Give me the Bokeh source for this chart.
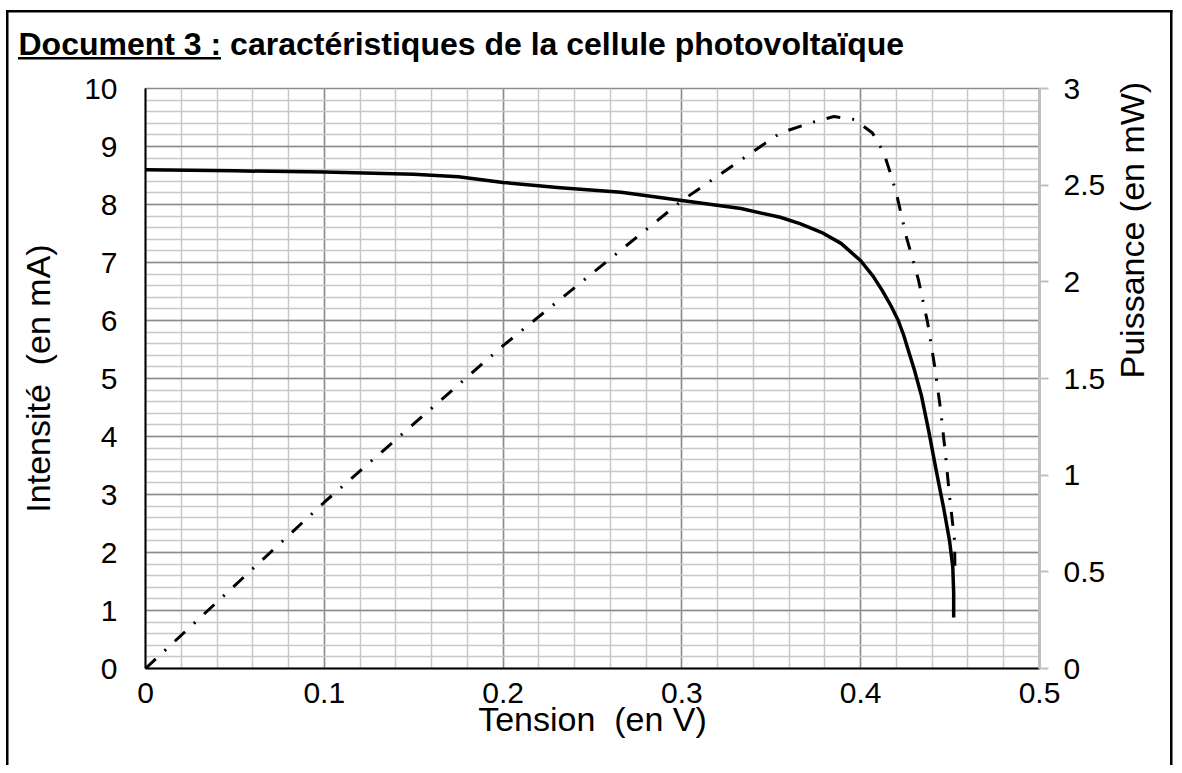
import math
import numpy as np
from bokeh.plotting import figure
from bokeh.models import Range1d, LinearAxis, FixedTicker
from bokeh.embed import file_html
from bokeh.resources import INLINE

# ---------------- data ----------------
tension_i = [0.0, 0.05, 0.10, 0.15, 0.175, 0.20, 0.232, 0.266, 0.30, 0.333, 0.355,
             0.366, 0.378, 0.389, 0.400, 0.407, 0.412, 0.417, 0.421, 0.424, 0.427,
             0.430, 0.434, 0.438, 0.442, 0.4465, 0.4497, 0.4515, 0.452, 0.452]
intensite = [8.60, 8.58, 8.56, 8.52, 8.48, 8.38, 8.29, 8.21, 8.07, 7.93, 7.78,
             7.67, 7.52, 7.33, 7.03, 6.76, 6.52, 6.25, 6.00, 5.75, 5.45,
             5.15, 4.70, 4.10, 3.45, 2.75, 2.20, 1.75, 1.30, 0.88]

tension_p = [0.0, 0.10, 0.20, 0.30, 0.355, 0.373, 0.385, 0.3965, 0.4066, 0.4128,
             0.4167, 0.420, 0.4228, 0.4256, 0.429, 0.4323, 0.4374, 0.4413, 0.4446,
             0.4474, 0.4497, 0.4525, 0.4527]
puissance = [0.0, 0.86, 1.67, 2.42, 2.77, 2.825, 2.855, 2.84, 2.77, 2.67,
             2.56, 2.457, 2.343, 2.23, 2.12, 2.01, 1.79, 1.567, 1.345,
             1.11, 0.89, 0.662, 0.52]

x_ticks = [0, 0.1, 0.2, 0.3, 0.4, 0.5]
x_tick_labels = ["0", "0.1", "0.2", "0.3", "0.4", "0.5"]
y_left_ticks = [0, 1, 2, 3, 4, 5, 6, 7, 8, 9, 10]
y_left_labels = ["0", "1", "2", "3", "4", "5", "6", "7", "8", "9", "10"]
y_right_ticks = [0, 0.5, 1, 1.5, 2, 2.5, 3]
y_right_labels = ["0", "0.5", "1", "1.5", "2", "2.5", "3"]

title_text = "Document 3 : caractéristiques de la cellule photovoltaïque"
x_label = "Tension\u00a0\u00a0(en V)"
y_left_label = "Intensité\u00a0\u00a0(en mA)"
y_right_label = "Puissance (en mW)"

# ---------------- layout ----------------
FONT = "Liberation Sans"
W, H = 1174, 765
FL, FR, FT, FB = 145, 1039, 88, 668   # frame in canvas px
TICK_FS = "30px"
LAB_FS = "34px"
TS = 32

# page frame + underline of "Document 3 :" drawn as CSS rectangles behind the canvas
rects = [  # x, y, w, h  (px)
    (18, 57, round(6.334 * TS), 2.5),   # underline
    (6, 9.5, 2.5, 900),                 # left border
    (6, 9.5, W - 6 - 1.5, 2.5),         # top border
    (W - 4, 9.5, 2.5, 900),             # right border
]
page_styles = {
    "background-image": ", ".join(["linear-gradient(#000, #000)"] * len(rects)),
    "background-repeat": "no-repeat",
    "background-position": ", ".join(f"{x}px {y}px" for x, y, w, h in rects),
    "background-size": ", ".join(f"{w}px {h}px" for x, y, w, h in rects),
}

p = figure(width=W, height=H, output_backend="svg", toolbar_location=None,
           x_range=Range1d(0, 0.5), y_range=Range1d(0, 10),
           min_border_left=FL, min_border_right=W - FR,
           min_border_top=FT, min_border_bottom=H - FB)
p.styles = page_styles
p.extra_y_ranges = {"pw": Range1d(0, 3)}
p.background_fill_color = "white"
p.border_fill_color = None
p.outline_line_color = "#8c8c8c"
p.outline_line_width = 1.5

# title
p.title.text = title_text
p.title.text_font = FONT
p.title.text_font_size = f"{TS}px"
p.title.text_font_style = "bold"
p.title.text_color = "black"
p.title.align = "left"
p.title.vertical_align = "top"
p.title.offset = 18 - FL
p.title.standoff = 49

# grids
minor_x = [float(v) for v in np.round(np.arange(0, 0.5001, 0.02), 3)]
minor_y = [float(v) for v in np.round(np.arange(0, 10.001, 0.2), 2)]
p.xgrid.ticker = FixedTicker(ticks=x_ticks, minor_ticks=minor_x)
p.ygrid.ticker = FixedTicker(ticks=y_left_ticks, minor_ticks=minor_y)
for g in (p.xgrid, p.ygrid):
    g.grid_line_color = "#8c8c8c"
    g.grid_line_width = 1.5
    g.minor_grid_line_color = "#c8c8c8"
    g.minor_grid_line_width = 1.5


def style_axis(ax):
    ax.major_label_text_font = FONT
    ax.major_label_text_font_size = TICK_FS
    ax.major_label_text_color = "black"
    ax.axis_label_text_font = FONT
    ax.axis_label_text_font_size = LAB_FS
    ax.axis_label_text_font_style = "normal"
    ax.axis_label_text_color = "black"
    ax.minor_tick_line_color = None
    ax.minor_tick_out = 0
    ax.minor_tick_in = 0


# bottom axis
xa = p.xaxis[0]
style_axis(xa)
xa.ticker = FixedTicker(ticks=x_ticks)
xa.major_label_overrides = {t: l for t, l in zip(x_ticks, x_tick_labels)}
xa.axis_line_color = "black"
xa.axis_line_width = 2
xa.major_tick_line_color = None
xa.major_tick_out = 0
xa.major_tick_in = 0
xa.major_label_standoff = 14
xa.axis_label = x_label
xa.axis_label_standoff = -6

# left axis
ya = p.yaxis[0]
style_axis(ya)
ya.ticker = FixedTicker(ticks=y_left_ticks)
ya.major_label_overrides = {t: l for t, l in zip(y_left_ticks, y_left_labels)}
ya.axis_line_color = "black"
ya.axis_line_width = 2
ya.major_tick_line_color = None
ya.major_tick_out = 0
ya.major_tick_in = 0
ya.major_label_standoff = 28
ya.axis_label = y_left_label
ya.axis_label_standoff = 24

# right axis
ra = LinearAxis(y_range_name="pw", ticker=FixedTicker(ticks=y_right_ticks))
style_axis(ra)
ra.major_label_overrides = {t: l for t, l in zip(y_right_ticks, y_right_labels)}
ra.axis_line_color = "#bfbfbf"
ra.axis_line_width = 3
ra.major_tick_line_color = "#bfbfbf"
ra.major_tick_line_width = 2
ra.major_tick_out = 9
ra.major_tick_in = 0
ra.major_label_standoff = 15
ra.axis_label = y_right_label
ra.axis_label_standoff = 24
ra.axis_label_orientation = math.pi / 2
p.add_layout(ra, "right")

# curves
p.line(tension_i, intensite, line_color="black", line_width=3.5, line_join="round")
p.line(tension_p, puissance, y_range_name="pw", line_color="black", line_width=3,
       line_dash="14 12 2 12", line_cap="butt")

open("out.html", "w").write(file_html(p, INLINE))
